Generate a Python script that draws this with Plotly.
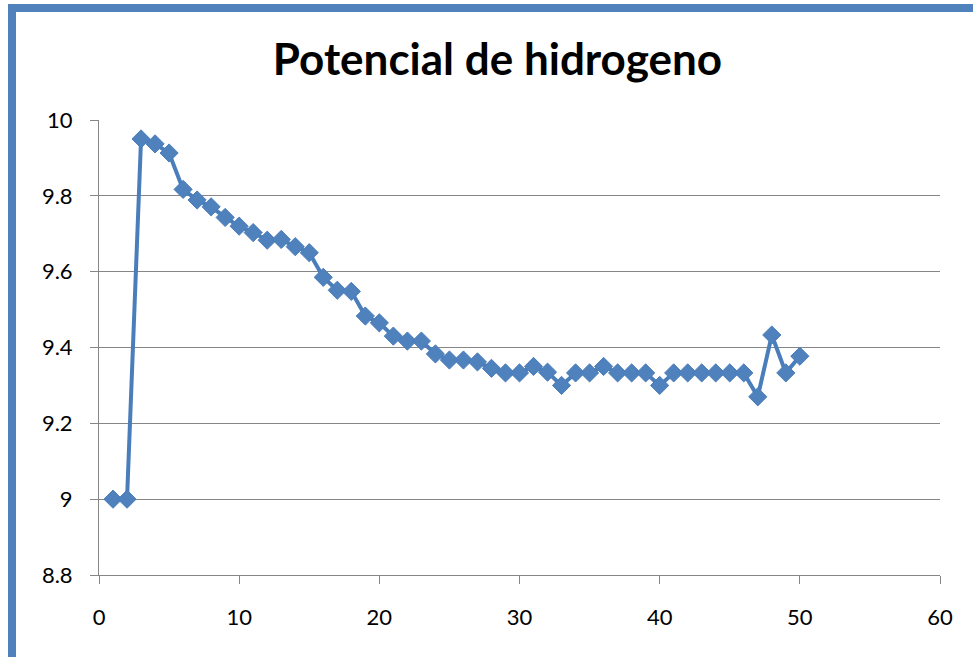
import plotly.graph_objects as go

# ---- data ----
muestra = list(range(1, 51))
ph = [9.0, 9.0, 9.95, 9.937, 9.913, 9.817, 9.789, 9.771, 9.743, 9.72,
      9.703, 9.683, 9.685, 9.666, 9.65, 9.585, 9.551, 9.548, 9.483, 9.465,
      9.43, 9.417, 9.417, 9.383, 9.367, 9.367, 9.362, 9.345, 9.333, 9.333,
      9.35, 9.335, 9.3, 9.333, 9.333, 9.35, 9.333, 9.333, 9.333, 9.3,
      9.333, 9.333, 9.333, 9.333, 9.333, 9.333, 9.27, 9.433, 9.333, 9.377]

x_ticks = [0, 10, 20, 30, 40, 50, 60]
y_ticks = [8.8, 9.0, 9.2, 9.4, 9.6, 9.8, 10.0]
y_tick_text = ["8.8", "9", "9.2", "9.4", "9.6", "9.8", "10"]
title_text = "Potencial de hidrogeno"

# ---- layout constants ----
W, H = 973, 657
L, R, T, B = 99, 33, 120, 82
PW, PH = W - L - R, H - T - B

def px(xp):
    return (xp - L) / PW

def py(yp):
    return (H - B - yp) / PH

blue = "#4F81BD"
grid = "#868686"
font_family = "Lato, 'Open Sans', sans-serif"

fig = go.Figure()
fig.add_trace(go.Scatter(
    x=muestra, y=ph, mode="lines+markers",
    line=dict(color="#4A7EBB", width=4),
    marker=dict(symbol="diamond", size=14, color=blue,
                line=dict(color="#4A7EBB", width=1)),
    showlegend=False, cliponaxis=False,
))

fig.update_layout(
    width=W, height=H,
    margin=dict(l=L, r=R, t=T, b=B),
    paper_bgcolor="white", plot_bgcolor="white",
    title=dict(text="<b>" + title_text + "</b>", x=497.5 / W, xref="container",
               xanchor="center", y=1 - 60 / H, yref="container", yanchor="middle",
               font=dict(family=font_family, size=44, color="black")),
    xaxis=dict(range=[0, 60], tickvals=x_ticks, showgrid=False,
               showline=True, linecolor=grid, linewidth=1,
               ticks="outside", ticklen=8, tickcolor=grid, tickwidth=1,
               zeroline=False, ticklabelstandoff=15,
               tickfont=dict(family=font_family, size=22, color="black")),
    yaxis=dict(range=[8.8, 10.0], tickvals=y_ticks, ticktext=y_tick_text,
               showgrid=True, gridcolor=grid, gridwidth=1,
               showline=True, linecolor=grid, linewidth=1,
               ticks="outside", ticklen=8, tickcolor=grid, tickwidth=1,
               zeroline=False, ticklabelstandoff=13,
               tickfont=dict(family=font_family, size=22, color="black")),
    shapes=[
        dict(type="rect", xref="paper", yref="paper",
             x0=px(8), x1=px(16), y0=py(4), y1=py(H + 5),
             fillcolor=blue, line=dict(width=0), layer="above"),
        dict(type="rect", xref="paper", yref="paper",
             x0=px(8), x1=px(W + 5), y0=py(4), y1=py(12),
             fillcolor=blue, line=dict(width=0), layer="above"),
    ],
)

fig.write_html(
    "out.html",
    config={"displayModeBar": False},
    post_script="document.body.style.margin='0';document.body.style.overflow='hidden';",
)
